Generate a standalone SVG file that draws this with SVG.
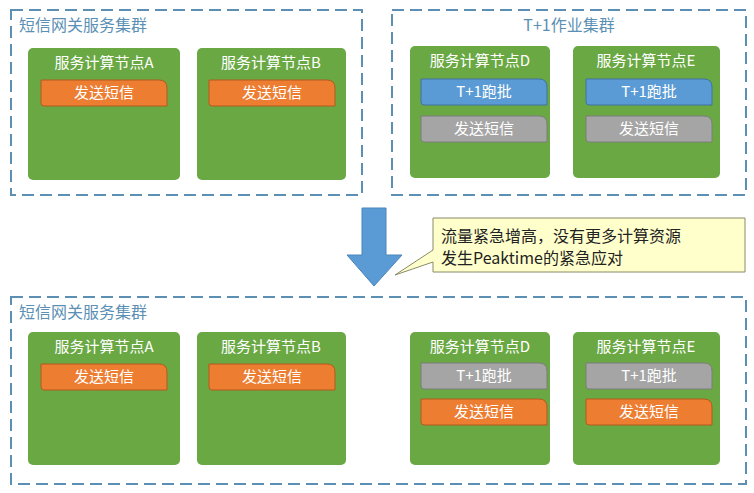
<svg xmlns="http://www.w3.org/2000/svg" width="754" height="493" viewBox="0 0 754 493">
<style>
.cl{fill:none;stroke:#5b8fb4;stroke-width:2;stroke-dasharray:12,6}
.ct{font:16px "Noto Sans CJK SC",sans-serif;fill:#5b8fb4}
.nd{fill:#6aa844}
.nt{font:15px "Noto Sans CJK SC",sans-serif;fill:#fff;text-anchor:middle}
.or{fill:#ed7d31;stroke:#b35a1e}
.bl{fill:#5b9bd5;stroke:#3e72a3}
.gr{fill:#a5a5a5;stroke:#7d7d7d}
.bt{font:15px "Noto Sans CJK SC",sans-serif;fill:#fff;text-anchor:middle}
.cx{font:16px "Noto Sans CJK SC",sans-serif;fill:#222}
</style>
<defs>
<path id="tab" d="M0,0 H118 Q126,0 126,8 V26 H3 Q0,26 0,23 Z"/>
</defs>
<rect width="754" height="493" fill="#fff"/>
<g id="c1"><rect class="cl" x="11" y="10" width="351" height="185"/><text class="ct" x="19" y="31">短信网关服务集群</text></g>
<g id="c2"><rect class="cl" x="392" y="10" width="354" height="185"/><text class="ct" x="569" y="31" text-anchor="middle">T+1作业集群</text></g>
<g id="c3"><rect class="cl" x="11" y="297" width="735" height="187"/><text class="ct" x="19" y="318">短信网关服务集群</text></g>

<g id="tA"><rect class="nd" x="28" y="48" width="152" height="132" rx="5"/><text class="nt" x="104" y="68">服务计算节点A</text><use href="#tab" class="or" x="41" y="80"/><text class="bt" x="104" y="98">发送短信</text></g>
<g id="tB"><rect class="nd" x="197" y="48" width="149" height="132" rx="5"/><text class="nt" x="271" y="68">服务计算节点B</text><use href="#tab" class="or" x="209" y="80"/><text class="bt" x="272" y="98">发送短信</text></g>
<g id="tD"><rect class="nd" x="410" y="46" width="140" height="132" rx="5"/><text class="nt" x="480" y="66">服务计算节点D</text><use href="#tab" class="bl" x="421" y="79"/><text class="bt" x="484" y="97">T+1跑批</text><use href="#tab" class="gr" x="421" y="116"/><text class="bt" x="484" y="134">发送短信</text></g>
<g id="tE"><rect class="nd" x="573" y="46" width="147" height="132" rx="5"/><text class="nt" x="646" y="66">服务计算节点E</text><use href="#tab" class="bl" x="586" y="79"/><text class="bt" x="649" y="97">T+1跑批</text><use href="#tab" class="gr" x="586" y="116"/><text class="bt" x="649" y="134">发送短信</text></g>

<g id="bA"><rect class="nd" x="28" y="332" width="152" height="133" rx="5"/><text class="nt" x="104" y="352">服务计算节点A</text><use href="#tab" class="or" x="41" y="364"/><text class="bt" x="104" y="382">发送短信</text></g>
<g id="bB"><rect class="nd" x="197" y="332" width="149" height="133" rx="5"/><text class="nt" x="271" y="352">服务计算节点B</text><use href="#tab" class="or" x="209" y="364"/><text class="bt" x="272" y="382">发送短信</text></g>
<g id="bD"><rect class="nd" x="410" y="332" width="140" height="133" rx="5"/><text class="nt" x="480" y="352">服务计算节点D</text><use href="#tab" class="gr" x="421" y="363"/><text class="bt" x="484" y="381">T+1跑批</text><use href="#tab" class="or" x="421" y="399"/><text class="bt" x="484" y="417">发送短信</text></g>
<g id="bE"><rect class="nd" x="573" y="332" width="147" height="133" rx="5"/><text class="nt" x="646" y="352">服务计算节点E</text><use href="#tab" class="gr" x="586" y="363"/><text class="bt" x="649" y="381">T+1跑批</text><use href="#tab" class="or" x="586" y="399"/><text class="bt" x="649" y="417">发送短信</text></g>

<g id="connectors">
<path d="M362,208 H386 V255 H402 L374,286 L347,255 H362 Z" fill="#5b9bd5" stroke="#4a85bb"/>
</g>
<g id="callout">
<path d="M433,218 H745 V272 H433 V262 L395,275 L433,250 Z" fill="#ffffcc" stroke="#8a8a6a"/>
<text class="cx" x="441" y="242">流量紧急增高，没有更多计算资源</text>
<text class="cx" x="441" y="264">发生Peaktime的紧急应对</text>
</g>
</svg>
